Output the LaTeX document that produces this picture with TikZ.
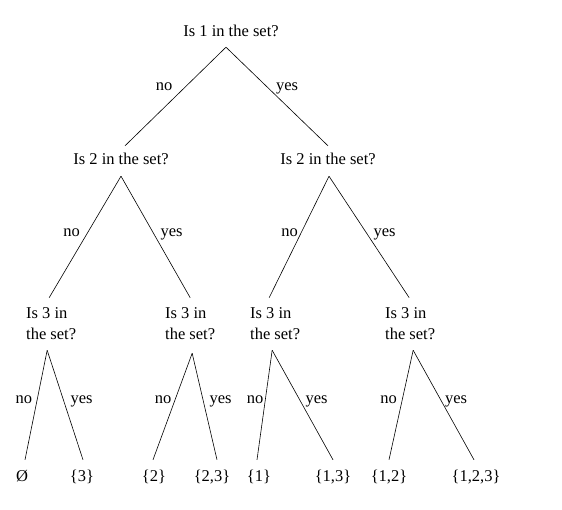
\documentclass[tikz,border=0pt]{standalone}
\usepackage{fontspec}
\setmainfont{Liberation Serif}
\begin{document}
\begin{tikzpicture}[x=1pt,y=-1pt,
  every node/.style={font=\fontsize{16.5}{21}\selectfont, inner xsep=0pt},
  q/.style={text height=12pt, text depth=4pt, inner ysep=6pt, anchor=base},
  qq/.style={text height=12pt, text depth=4pt, inner ysep=7pt, anchor=base},
  q3/.style={align=left, inner ysep=10pt, anchor=north west},
  leaf/.style={text height=12pt, text depth=4pt, inner ysep=9pt, anchor=base},
  lab/.style={anchor=base, inner sep=0pt},
  br/.style={line width=0.6pt}]
\useasboundingbox[fill=white] (0,0) rectangle (562,510);
% questions
\node[q] (t) at (231,37) {Is 1 in the set?};
\node[qq] (l2a) at (121,165) {Is 2 in the set?};
\node[qq] (l2b) at (328,165) {Is 2 in the set?};
\node[q3] (l3a) at (26,297.7) {Is 3 in\\the set?};
\node[q3] (l3b) at (165,297.7) {Is 3 in\\the set?};
\node[q3] (l3c) at (250,297.7) {Is 3 in\\the set?};
\node[q3] (l3d) at (385,297.7) {Is 3 in\\the set?};
% leaves
\node[leaf] (s0) at (22,481) {Ø};
\node[leaf] (s3) at (82,481) {\{3\}};
\node[leaf] (s2) at (154,481) {\{2\}};
\node[leaf] (s23) at (212,481) {\{2,3\}};
\node[leaf] (s1) at (259,481) {\{1\}};
\node[leaf] (s13) at (333,481) {\{1,3\}};
\node[leaf] (s12) at (389,481) {\{1,2\}};
\node[leaf] (s123) at (476,481) {\{1,2,3\}};
% branches
\draw[br] ([xshift=-5pt]t.south) -- ([xshift=4pt]l2a.north);
\draw[br] ([xshift=-5pt]t.south) -- (l2b.north);
\draw[br] (l2a.south) -- ([xshift=-2pt]l3a.north);
\draw[br] (l2a.south) -- (l3b.north);
\draw[br] ([xshift=1pt]l2b.south) -- ([xshift=-6pt]l3c.north);
\draw[br] ([xshift=1pt]l2b.south) -- ([xshift=-1pt]l3d.north);
\draw[br] ([xshift=-4pt]l3a.south) -- ([xshift=3pt]s0.north);
\draw[br] ([xshift=-4pt]l3a.south) -- ([xshift=1pt]s3.north);
\draw[br] ([xshift=2pt,yshift=-3pt]l3b.south) -- ([xshift=-1pt]s2.north);
\draw[br] ([xshift=2pt,yshift=-3pt]l3b.south) -- ([xshift=5pt]s23.north);
\draw[br] ([xshift=-3pt]l3c.south) -- ([xshift=-2pt]s1.north);
\draw[br] ([xshift=-3pt]l3c.south) -- (s13.north);
\draw[br] ([xshift=3pt]l3d.south) -- (s12.north);
\draw[br] ([xshift=3pt]l3d.south) -- ([xshift=-2pt]s123.north);
% labels
\node[lab] (n1) at (164,91) {no};
\node[lab] (y1) at (287,91) {yes};
\node[lab] (n2a) at (71.5,237) {no};
\node[lab] (y2a) at (171.5,237) {yes};
\node[lab] (n2b) at (289.5,237) {no};
\node[lab] (y2b) at (384.5,237) {yes};
\node[lab] (n3a) at (24,403) {no};
\node[lab] (y3a) at (81.5,403) {yes};
\node[lab] (n3b) at (163,403) {no};
\node[lab] (y3b) at (220.5,403) {yes};
\node[lab] (n3c) at (255,403) {no};
\node[lab] (y3c) at (316.5,403) {yes};
\node[lab] (n3d) at (388.5,403) {no};
\node[lab] (y3d) at (456,403) {yes};
\end{tikzpicture}
\end{document}
